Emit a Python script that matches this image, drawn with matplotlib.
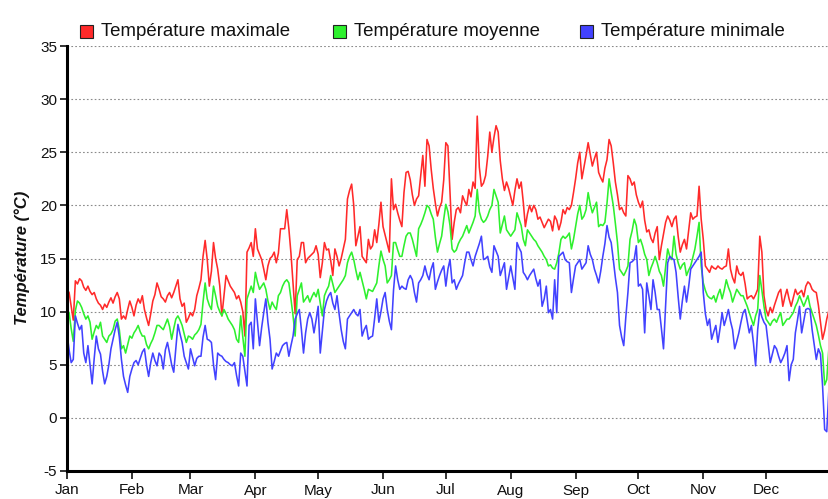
import matplotlib
matplotlib.use("Agg")
import matplotlib.pyplot as plt
from matplotlib.patches import Rectangle
import numpy as np

plt.rcParams['font.family'] = ['Liberation Sans', 'DejaVu Sans']

months = ["Jan", "Feb", "Mar", "Apr", "May", "Jun", "Jul", "Aug", "Sep", "Oct", "Nov", "Dec"]
month_lengths = [31, 28, 31, 30, 31, 30, 31, 31, 30, 31, 30, 31]
y_ticks = [-5, 0, 5, 10, 15, 20, 25, 30, 35]
series_labels = ["Température maximale", "Température moyenne", "Température minimale"]

t_max = [
    12.1, 11.8, 10.5, 9.2, 12.9, 12.6, 13.1, 12.9, 12.3, 12.0, 12.4, 11.9, 11.6, 11.8, 11.2, 10.8, 10.6, 10.2, 10.7, 10.4, 10.9, 11.3, 10.8, 11.4, 11.8, 11.2, 9.3, 9.6, 9.3, 10.2, 11.0,
    10.4, 9.6, 10.6, 11.2, 10.8, 11.5, 10.2, 9.4, 8.7, 9.8, 11.0, 11.6, 12.7, 12.1, 11.4, 11.2, 10.9, 11.5, 11.8, 11.3, 11.8, 12.4, 13.0, 11.2, 10.5, 10.8, 9.0, 9.4,
    9.9, 9.6, 10.2, 11.5, 12.2, 13.0, 15.2, 16.7, 14.9, 12.4, 13.8, 16.5, 15.0, 14.0, 12.4, 9.6, 11.5, 13.4, 12.9, 12.4, 12.1, 11.8, 11.2, 11.5, 10.9, 10.0, 7.7, 15.6, 16.0, 16.5, 15.2,
    17.8, 15.9, 15.4, 14.9, 14.0, 13.0, 14.3, 15.0, 15.2, 15.6, 14.6, 15.5, 17.8, 17.8, 17.8, 19.6, 17.8, 15.5, 12.7, 9.8, 14.9, 15.2, 16.5, 16.5, 14.6, 15.0, 15.2, 15.4, 15.6, 16.2,
    15.4, 13.2, 14.6, 16.5, 15.8, 15.9, 14.8, 13.4, 15.9, 15.2, 14.3, 15.0, 15.9, 16.8, 20.6, 21.4, 22.0, 20.0, 16.2, 17.1, 18.0, 15.2, 14.9, 14.6, 16.8, 15.9, 16.2, 17.7, 16.5, 18.2, 20.3,
    18.0, 17.2, 16.4, 15.6, 22.5, 19.6, 20.1, 19.3, 18.6, 18.0, 21.2, 23.1, 23.2, 22.4, 21.0, 20.0, 20.6, 20.9, 22.8, 24.7, 21.8, 26.2, 25.6, 23.4, 21.6, 20.2, 19.0, 19.8, 20.3, 22.4,
    25.9, 25.6, 21.2, 16.8, 18.4, 19.6, 19.8, 19.3, 20.9, 20.4, 20.0, 21.5, 20.8, 22.2, 21.6, 28.4, 23.6, 21.8, 22.1, 22.8, 24.6, 26.9, 25.0, 26.4, 27.5, 26.9, 24.2, 22.5, 21.4, 22.2, 21.6,
    20.8, 20.0, 21.4, 22.5, 21.6, 22.2, 20.3, 18.0, 19.2, 20.0, 19.4, 20.0, 19.6, 18.7, 18.9, 18.4, 17.9, 18.3, 18.7, 18.5, 17.6, 19.0, 18.6, 17.7, 18.4, 19.6, 19.2, 19.8, 19.6, 20.0, 21.2,
    22.5, 24.0, 25.0, 22.5, 23.6, 24.7, 25.9, 24.8, 23.7, 24.4, 25.0, 23.1, 22.6, 22.2, 23.5, 24.3, 26.2, 25.6, 24.0, 22.2, 21.0, 19.6, 19.8, 19.3, 19.0, 22.8, 22.5, 21.9, 22.2, 21.0,
    20.3, 19.8, 20.4, 18.6, 17.5, 17.7, 16.9, 16.5, 17.4, 18.0, 14.9, 16.2, 17.3, 18.4, 19.0, 18.6, 18.0, 18.7, 19.0, 17.1, 15.6, 16.3, 16.8, 15.9, 17.6, 19.3, 18.7, 18.9, 19.0, 21.8, 18.7,
    16.8, 14.3, 14.0, 13.7, 14.3, 14.1, 14.0, 14.3, 14.1, 14.0, 14.2, 14.3, 15.9, 14.0, 13.2, 12.7, 14.3, 13.6, 13.4, 13.7, 12.6, 11.2, 11.4, 11.5, 11.2, 11.6, 12.1, 17.1, 15.6, 11.5,
    10.2, 9.6, 10.4, 9.9, 10.6, 11.2, 11.8, 12.1, 10.5, 11.4, 12.1, 11.2, 10.5, 11.3, 12.1, 11.6, 11.8, 12.0, 11.4, 12.4, 12.8, 12.6, 12.1, 11.9, 11.8, 10.6, 9.0, 7.4, 8.2, 9.3, 10.1,
]

t_moy = [
    10.2, 9.9, 8.4, 7.2, 10.1, 11.0, 10.8, 10.4, 9.8, 9.3, 9.6, 9.0, 7.4, 8.1, 8.7, 8.4, 9.0, 7.7, 7.4, 7.1, 7.7, 7.9, 8.3, 9.1, 9.3, 8.3, 6.5, 6.8, 6.1, 6.9, 7.7,
    7.5, 8.0, 8.3, 8.7, 8.1, 7.7, 7.7, 6.9, 6.5, 7.0, 7.4, 8.0, 8.7, 8.7, 8.5, 8.3, 8.8, 9.3, 8.6, 7.4, 8.4, 9.3, 9.6, 9.2, 8.7, 7.9, 7.1, 7.7,
    7.6, 7.4, 7.8, 8.0, 8.3, 8.8, 10.9, 12.7, 11.2, 10.6, 10.2, 12.4, 11.5, 10.5, 10.0, 9.6, 10.2, 9.8, 9.3, 9.0, 8.7, 8.3, 7.4, 7.1, 9.6, 7.6, 5.8, 11.2, 11.8, 12.4, 11.8,
    13.7, 12.8, 12.1, 12.4, 12.7, 12.1, 11.0, 10.2, 10.9, 10.5, 10.2, 11.5, 11.8, 12.4, 12.8, 13.0, 12.7, 11.2, 9.6, 7.7, 11.5, 12.1, 12.7, 10.9, 11.2, 11.5, 10.9, 11.4, 11.8, 11.4,
    12.1, 10.8, 9.6, 11.5, 12.0, 12.4, 13.4, 12.6, 11.8, 12.1, 12.4, 12.7, 13.0, 13.4, 14.6, 15.2, 15.6, 14.9, 13.9, 13.0, 13.7, 12.9, 12.1, 11.2, 12.1, 12.0, 11.9, 12.3, 12.7, 14.3, 15.7,
    14.9, 14.3, 12.7, 13.0, 13.4, 16.5, 16.5, 15.8, 15.2, 15.2, 16.2, 17.1, 17.4, 17.4, 16.8, 16.0, 15.2, 17.8, 18.2, 18.7, 19.3, 20.0, 19.8, 19.2, 18.7, 17.0, 15.6, 16.4, 17.1, 18.7,
    20.1, 19.4, 18.1, 15.9, 15.6, 15.8, 16.4, 16.8, 17.1, 17.6, 18.1, 17.4, 17.9, 18.4, 19.0, 21.5, 19.4, 18.7, 18.4, 18.6, 19.0, 19.6, 20.0, 21.5, 20.9, 20.3, 17.4, 18.2, 19.0, 17.7, 17.4,
    17.1, 17.4, 17.7, 19.3, 18.7, 18.1, 16.8, 16.2, 17.7, 17.4, 17.1, 16.8, 16.6, 16.2, 15.9, 15.6, 15.2, 14.9, 14.3, 14.4, 14.1, 14.0, 14.6, 15.5, 16.8, 17.1, 16.9, 17.1, 17.4, 15.9, 16.8,
    18.0, 19.2, 20.0, 18.7, 19.0, 19.6, 21.2, 20.1, 19.3, 19.8, 20.3, 18.0, 18.2, 18.1, 18.4, 20.2, 22.5, 21.2, 20.0, 18.3, 16.5, 14.0, 13.7, 13.4, 13.8, 14.3, 16.8, 17.6, 18.7, 18.1,
    16.5, 16.8, 16.2, 15.4, 14.9, 13.4, 14.1, 14.6, 15.2, 14.6, 13.8, 13.4, 12.4, 14.2, 15.9, 15.2, 14.9, 17.1, 15.4, 14.6, 14.0, 14.4, 14.6, 13.4, 13.9, 14.3, 15.1, 15.9, 17.1, 18.4, 14.3,
    12.7, 12.0, 11.5, 11.3, 11.2, 11.5, 10.9, 11.6, 12.1, 11.2, 12.0, 13.0, 12.3, 11.8, 10.9, 11.5, 12.1, 11.8, 11.5, 11.5, 11.0, 10.5, 9.9, 9.3, 8.7, 9.6, 10.2, 13.4, 12.0, 10.5,
    9.3, 9.0, 8.7, 9.1, 9.3, 9.0, 9.5, 9.9, 8.7, 9.0, 9.3, 9.3, 9.6, 9.9, 10.5, 10.9, 11.5, 11.0, 10.5, 11.0, 11.5, 10.5, 9.9, 9.3, 8.7, 7.8, 6.8, 6.1, 3.1, 3.6, 6.5,
]

t_min = [
    8.0, 6.4, 5.2, 5.5, 9.6, 8.9, 8.3, 8.7, 6.1, 5.2, 6.8, 5.0, 3.2, 5.6, 7.7, 6.5, 6.0, 4.4, 3.2, 3.9, 5.0, 6.5, 7.4, 8.3, 9.0, 7.6, 5.5, 3.9, 3.1, 2.4, 3.9,
    4.6, 5.2, 5.4, 5.0, 5.6, 6.2, 6.5, 5.0, 3.9, 5.2, 6.1, 5.4, 4.9, 6.1, 5.8, 4.6, 6.4, 7.1, 6.1, 5.0, 4.3, 6.6, 8.8, 7.9, 7.1, 5.8, 5.2, 4.6,
    6.5, 5.7, 4.9, 5.6, 5.8, 5.8, 7.6, 8.7, 7.4, 7.3, 7.1, 5.0, 3.6, 6.1, 5.9, 5.8, 5.5, 5.3, 5.2, 5.0, 4.9, 5.2, 4.0, 3.0, 6.1, 5.8, 4.4, 3.0, 8.7, 9.0, 6.5,
    11.2, 9.0, 6.8, 8.5, 9.9, 11.2, 9.0, 7.4, 4.6, 5.3, 6.1, 5.8, 6.3, 6.8, 7.0, 7.1, 5.8, 6.8, 7.7, 9.3, 9.8, 10.2, 8.3, 6.1, 8.0, 9.3, 9.9, 9.3, 8.0, 9.2,
    10.5, 6.1, 8.2, 10.2, 11.0, 11.5, 11.8, 10.8, 10.2, 11.5, 9.8, 8.3, 7.2, 6.5, 9.3, 9.6, 9.9, 10.2, 9.8, 9.6, 10.2, 7.7, 8.3, 8.7, 7.4, 7.6, 7.7, 9.4, 11.2, 9.0, 10.0,
    11.2, 11.8, 10.2, 9.1, 8.3, 12.0, 14.3, 13.0, 12.1, 12.4, 12.2, 12.1, 13.0, 13.4, 13.0, 11.8, 10.9, 12.7, 13.0, 13.4, 14.3, 13.5, 13.0, 14.0, 14.6, 12.1, 12.8, 13.4, 13.9, 14.3,
    12.4, 14.0, 14.9, 12.7, 13.0, 12.1, 12.6, 13.0, 13.4, 14.6, 15.6, 15.6, 14.9, 14.3, 15.2, 15.8, 16.4, 17.1, 14.9, 15.0, 15.2, 14.2, 13.7, 16.2, 15.7, 15.2, 13.4, 14.0, 14.6, 12.1, 13.2,
    14.3, 13.2, 12.1, 16.5, 16.0, 15.6, 13.7, 13.4, 13.0, 13.4, 13.7, 14.0, 13.1, 12.4, 13.0, 10.5, 11.2, 12.4, 9.9, 10.2, 9.3, 13.0, 9.9, 15.2, 15.4, 15.6, 14.9, 14.7, 14.6, 11.8, 13.1,
    14.3, 14.6, 14.9, 14.0, 14.3, 14.6, 16.2, 15.4, 14.9, 14.0, 13.4, 12.7, 13.8, 15.2, 16.4, 18.1, 17.0, 16.5, 14.9, 13.2, 11.8, 8.7, 7.6, 6.8, 9.5, 11.8, 14.6, 14.7, 14.9, 16.2,
    12.4, 12.6, 12.1, 8.0, 12.7, 11.5, 10.2, 13.0, 11.8, 10.2, 10.2, 8.4, 6.5, 10.5, 14.6, 15.2, 15.0, 14.9, 13.7, 11.4, 9.3, 11.0, 12.4, 10.9, 12.3, 14.0, 14.3, 14.6, 14.9, 15.2, 15.6,
    11.8, 9.8, 8.7, 9.3, 7.4, 8.1, 8.7, 7.1, 8.4, 9.9, 8.7, 9.4, 10.2, 9.1, 8.3, 6.5, 7.2, 8.0, 9.0, 9.9, 10.2, 9.1, 8.0, 8.7, 7.0, 4.9, 8.3, 10.2, 9.5, 9.0,
    8.7, 7.0, 5.2, 6.0, 6.8, 6.5, 5.8, 5.2, 5.6, 6.1, 6.8, 3.5, 5.0, 5.5, 8.0, 9.2, 10.5, 8.0, 9.1, 10.2, 10.3, 10.2, 8.3, 6.9, 5.5, 6.5, 6.0, 3.0, -1.1, -1.3, 2.6,
]

days = np.arange(len(t_max))
month_starts = np.concatenate([[0], np.cumsum(month_lengths)[:-1]])

W, H = 829, 499
fig = plt.figure(figsize=(W / 100, H / 100), dpi=100)
fig.patch.set_facecolor("white")

left_px, top_px, bottom_px = 67, 46, 471
px_per_day = 2.093
ax = fig.add_axes([left_px / W, 1 - bottom_px / H, 365 * px_per_day / W, (bottom_px - top_px) / H])

colors = ["#ff2a2a", "#2ef02e", "#4242ff"]
for vals, c in zip([t_max, t_moy, t_min], colors):
    ax.plot(days, vals, color=c, lw=1.15, solid_joinstyle="round")

ax.set_xlim(0, 365)
ax.set_ylim(-5, 35)
ax.set_yticks(y_ticks)
ax.set_yticklabels([str(v) for v in y_ticks])
ax.set_xticks(month_starts)
ax.set_xticklabels(months)

for v in y_ticks:
    ax.axhline(v, color="#8a8a8a", lw=0.8, ls=(0, (1.5, 2.0)), zorder=0)

for s in ["top", "right"]:
    ax.spines[s].set_visible(False)
ax.spines["left"].set_linewidth(2.2)
ax.spines["bottom"].set_linewidth(2.2)
ax.tick_params(axis="y", direction="out", length=5, width=1.2, labelsize=11, pad=2, colors="#111111")
ax.tick_params(axis="x", direction="out", length=6, width=1.2, labelsize=11, pad=3, colors="#111111")

fig.text(22 / W, 1 - 258 / H, "Température (°C)", rotation=90, ha="center", va="center",
         fontsize=12, fontweight="bold", fontstyle="italic", color="#111111")

# legend
leg_x = [80, 333, 580]
for x0, lab, c in zip(leg_x, series_labels, colors):
    fig.patches.append(Rectangle((x0 / W, 1 - 38 / H), 13 / W, 13 / H, transform=fig.transFigure,
                                 facecolor=c, edgecolor="#222222", lw=0.8))
    fig.text((x0 + 21) / W, 1 - 31.5 / H, lab, ha="left", va="center", fontsize=13.4, color="#111111")

fig.savefig("out.png", dpi=100, facecolor="white")
